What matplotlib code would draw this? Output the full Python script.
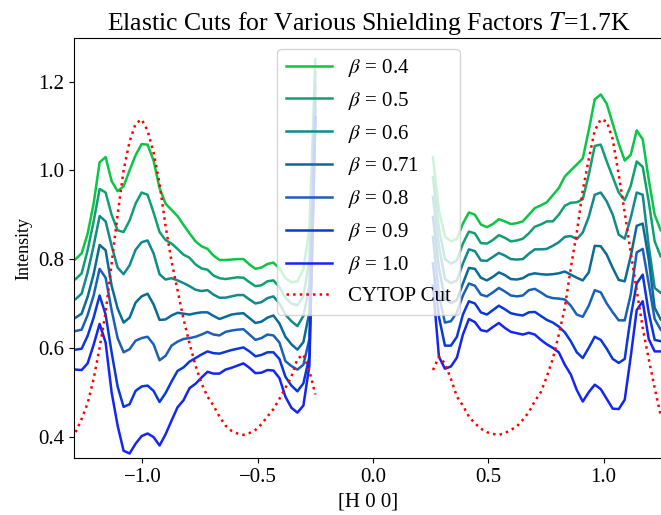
import numpy as np
import matplotlib
matplotlib.use("Agg")
import matplotlib.pyplot as plt

plt.rcParams['font.family'] = ['Liberation Serif', 'DejaVu Serif']
plt.rcParams['mathtext.fontset'] = 'stix'

# H grid of the two measured windows
h_left = [-1.290, -1.264, -1.238, -1.212, -1.186, -1.160, -1.134, -1.108, -1.082, -1.056,
          -1.030, -1.004, -0.978, -0.952, -0.926, -0.900, -0.874, -0.848, -0.822, -0.796,
          -0.770, -0.744, -0.718, -0.692, -0.666, -0.640, -0.614, -0.588, -0.562, -0.536,
          -0.510, -0.484, -0.458, -0.432, -0.406, -0.380, -0.354, -0.328, -0.302, -0.276,
          -0.250]
h_right = [0.260, 0.286, 0.312, 0.338, 0.364, 0.390, 0.416, 0.442, 0.468, 0.494,
           0.520, 0.546, 0.572, 0.598, 0.624, 0.650, 0.676, 0.702, 0.728, 0.754,
           0.780, 0.806, 0.832, 0.858, 0.884, 0.910, 0.936, 0.962, 0.988, 1.014,
           1.040, 1.066, 1.092, 1.118, 1.144, 1.170, 1.196, 1.222, 1.248]

betas = ['0.4', '0.5', '0.6', '0.71', '0.8', '0.9', '1.0']
colors = ['#0cc446', '#10a070', '#12898a', '#0a6a98', '#1a5fb8', '#0a38d8', '#1426f0']

b04_left = [0.800, 0.813, 0.857, 0.925, 1.018, 1.030, 0.976, 0.953, 0.964, 1.000,
            1.034, 1.059, 1.058, 1.022, 0.960, 0.925, 0.911, 0.897, 0.877, 0.858,
            0.840, 0.829, 0.823, 0.808, 0.798, 0.798, 0.799, 0.800, 0.800, 0.788,
            0.778, 0.781, 0.789, 0.792, 0.779, 0.757, 0.748, 0.750, 0.777, 0.870, 1.250]
b05_left = [0.755, 0.768, 0.820, 0.885, 0.958, 0.950, 0.900, 0.865, 0.861, 0.887,
            0.925, 0.950, 0.945, 0.905, 0.861, 0.843, 0.835, 0.823, 0.810, 0.803,
            0.788, 0.779, 0.776, 0.763, 0.757, 0.755, 0.757, 0.759, 0.758, 0.748,
            0.739, 0.741, 0.750, 0.752, 0.737, 0.713, 0.700, 0.696, 0.716, 0.800, 1.220]
b06_left = [0.710, 0.722, 0.770, 0.830, 0.897, 0.885, 0.830, 0.781, 0.766, 0.786,
            0.821, 0.838, 0.842, 0.813, 0.766, 0.754, 0.757, 0.752, 0.746, 0.739,
            0.731, 0.728, 0.730, 0.720, 0.713, 0.713, 0.716, 0.719, 0.719, 0.709,
            0.700, 0.703, 0.712, 0.716, 0.700, 0.675, 0.660, 0.649, 0.672, 0.740, 1.190]
b071_left = [0.668, 0.677, 0.715, 0.766, 0.832, 0.820, 0.740, 0.689, 0.657, 0.668,
             0.702, 0.716, 0.722, 0.698, 0.663, 0.664, 0.673, 0.679, 0.677, 0.675,
             0.678, 0.680, 0.680, 0.672, 0.665, 0.670, 0.675, 0.677, 0.678, 0.667,
             0.656, 0.659, 0.668, 0.673, 0.655, 0.625, 0.608, 0.596, 0.613, 0.680, 1.160]
b08_left = [0.638, 0.641, 0.674, 0.718, 0.778, 0.758, 0.685, 0.622, 0.590, 0.597,
            0.616, 0.622, 0.625, 0.608, 0.572, 0.582, 0.605, 0.614, 0.620, 0.622,
            0.625, 0.630, 0.636, 0.630, 0.628, 0.636, 0.639, 0.641, 0.642, 0.630,
            0.618, 0.622, 0.630, 0.628, 0.612, 0.570, 0.559, 0.551, 0.562, 0.620, 1.140]
b09_left = [0.596, 0.598, 0.627, 0.668, 0.718, 0.675, 0.590, 0.513, 0.467, 0.473,
            0.503, 0.513, 0.515, 0.503, 0.478, 0.498, 0.524, 0.548, 0.556, 0.569,
            0.577, 0.585, 0.592, 0.588, 0.587, 0.591, 0.595, 0.598, 0.601, 0.592,
            0.581, 0.584, 0.590, 0.590, 0.575, 0.535, 0.515, 0.502, 0.520, 0.580, 1.120]
b10_left = [0.551, 0.550, 0.565, 0.607, 0.654, 0.612, 0.500, 0.425, 0.368, 0.362,
            0.384, 0.401, 0.407, 0.399, 0.380, 0.405, 0.436, 0.466, 0.482, 0.509,
            0.519, 0.533, 0.546, 0.542, 0.542, 0.551, 0.555, 0.560, 0.565, 0.555,
            0.543, 0.544, 0.550, 0.549, 0.532, 0.490, 0.465, 0.454, 0.470, 0.560, 1.120]

b04_right = [1.030, 0.910, 0.851, 0.840, 0.846, 0.880, 0.905, 0.900, 0.878, 0.872,
             0.879, 0.890, 0.885, 0.879, 0.881, 0.885, 0.900, 0.915, 0.921, 0.928,
             0.944, 0.960, 0.986, 1.000, 1.013, 1.027, 1.090, 1.160, 1.171, 1.150,
             1.105, 1.060, 1.022, 1.035, 1.090, 1.070, 0.980, 0.900, 0.865]
b05_right = [0.985, 0.870, 0.800, 0.790, 0.797, 0.835, 0.862, 0.858, 0.836, 0.835,
             0.843, 0.854, 0.848, 0.840, 0.842, 0.846, 0.858, 0.873, 0.878, 0.885,
             0.885, 0.900, 0.920, 0.927, 0.928, 0.935, 0.990, 1.055, 1.058, 1.020,
             0.985, 0.950, 0.933, 0.965, 1.020, 1.008, 0.930, 0.840, 0.806]
b06_right = [0.940, 0.830, 0.755, 0.746, 0.752, 0.790, 0.822, 0.818, 0.797, 0.796,
             0.805, 0.814, 0.808, 0.800, 0.799, 0.800, 0.812, 0.822, 0.822, 0.823,
             0.830, 0.838, 0.850, 0.852, 0.845, 0.860, 0.895, 0.945, 0.950, 0.930,
             0.900, 0.855, 0.846, 0.893, 0.950, 0.945, 0.830, 0.735, 0.724]
b071_right = [0.895, 0.780, 0.710, 0.701, 0.708, 0.745, 0.780, 0.778, 0.758, 0.752,
              0.760, 0.770, 0.764, 0.755, 0.754, 0.757, 0.765, 0.768, 0.766, 0.765,
              0.766, 0.768, 0.772, 0.765, 0.758, 0.752, 0.770, 0.830, 0.829, 0.810,
              0.780, 0.753, 0.750, 0.806, 0.875, 0.880, 0.800, 0.690, 0.664]
b08_right = [0.850, 0.720, 0.657, 0.660, 0.680, 0.718, 0.745, 0.740, 0.720, 0.716,
             0.725, 0.735, 0.727, 0.718, 0.716, 0.718, 0.730, 0.733, 0.725, 0.716,
             0.712, 0.711, 0.709, 0.695, 0.675, 0.670, 0.695, 0.730, 0.725, 0.700,
             0.680, 0.662, 0.662, 0.720, 0.815, 0.823, 0.745, 0.665, 0.641]
b09_right = [0.790, 0.670, 0.605, 0.605, 0.625, 0.675, 0.705, 0.700, 0.680, 0.675,
             0.685, 0.695, 0.687, 0.678, 0.675, 0.673, 0.680, 0.681, 0.672, 0.663,
             0.657, 0.648, 0.635, 0.615, 0.590, 0.577, 0.600, 0.625, 0.618, 0.598,
             0.575, 0.566, 0.575, 0.670, 0.745, 0.765, 0.680, 0.618, 0.615]
b10_right = [0.740, 0.580, 0.553, 0.558, 0.578, 0.630, 0.665, 0.658, 0.640, 0.637,
             0.647, 0.656, 0.645, 0.636, 0.633, 0.630, 0.634, 0.630, 0.618, 0.608,
             0.600, 0.590, 0.562, 0.540, 0.505, 0.479, 0.500, 0.517, 0.507, 0.485,
             0.463, 0.462, 0.483, 0.580, 0.685, 0.705, 0.620, 0.592, 0.592]

cytop_left = [0.410, 0.440, 0.475, 0.530, 0.600, 0.680, 0.790, 0.900, 1.000, 1.065,
              1.105, 1.115, 1.090, 1.040, 0.970, 0.875, 0.795, 0.730, 0.665, 0.610,
              0.560, 0.520, 0.490, 0.470, 0.445, 0.425, 0.413, 0.407, 0.404, 0.408,
              0.415, 0.428, 0.445, 0.462, 0.485, 0.510, 0.535, 0.575, 0.585, 0.548, 0.495]
cytop_right = [0.550, 0.580, 0.565, 0.530, 0.490, 0.470, 0.445, 0.430, 0.418, 0.410,
               0.406, 0.404, 0.408, 0.415, 0.423, 0.438, 0.455, 0.480, 0.500, 0.535,
               0.575, 0.630, 0.690, 0.780, 0.860, 0.955, 1.025, 1.090, 1.115, 1.110,
               1.070, 0.990, 0.905, 0.815, 0.730, 0.645, 0.575, 0.510, 0.448]

left_sets = [b04_left, b05_left, b06_left, b071_left, b08_left, b09_left, b10_left]
right_sets = [b04_right, b05_right, b06_right, b071_right, b08_right, b09_right, b10_right]

fig = plt.figure(figsize=(6.61, 5.15), dpi=100)
ax = fig.add_axes([0.112, 0.110, 0.891, 0.816])

for beta, col, yl, yr in zip(betas, colors, left_sets, right_sets):
    ax.plot(h_left, yl, color=col, lw=1.8, label=r'$\beta$ = ' + beta)
    ax.plot(h_right, yr, color=col, lw=1.8)

ax.plot(h_left, cytop_left, color='red', ls=':', lw=1.8, label='CYTOP Cut')
ax.plot(h_right, cytop_right, color='red', ls=':', lw=1.8)

ax.set_xlim(-1.297, 1.258)
ax.set_ylim(0.351, 1.298)
ax.set_xticks([-1.0, -0.5, 0.0, 0.5, 1.0])
ax.set_yticks([0.4, 0.6, 0.8, 1.0, 1.2])
ax.tick_params(labelsize=15)

ax.set_xlabel('[H 0 0]', fontsize=15)
ax.set_ylabel('Intensity', fontsize=13)
ax.set_title(r'Elastic Cuts for Various Shielding Factors $T$=1.7K', fontsize=18.5)
ax.legend(loc='upper center', fontsize=15, handlelength=2.2, labelspacing=0.52)

plt.savefig('out.png', dpi=100)
